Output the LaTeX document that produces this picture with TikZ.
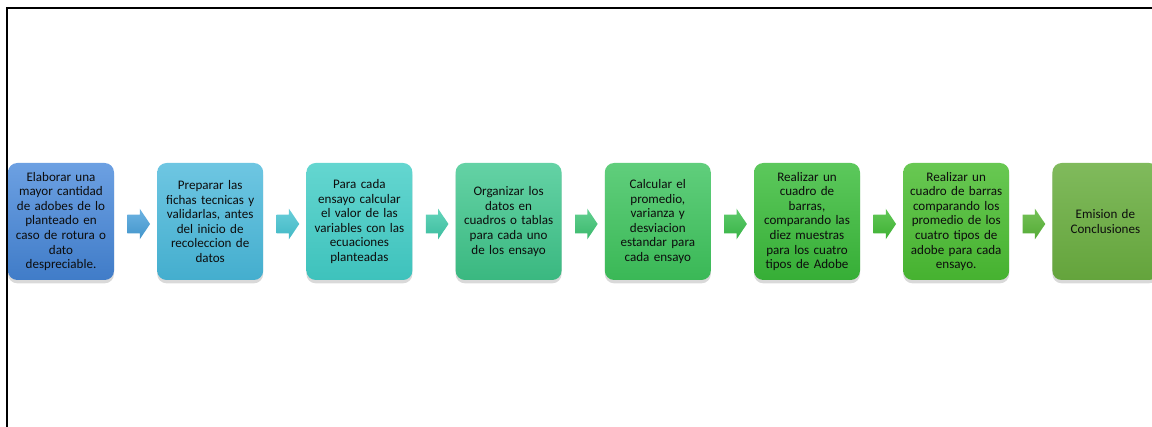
\documentclass[tikz,border=0pt]{standalone}
\usepackage{fontspec}
\setmainfont{Carlito}
\usetikzlibrary{shapes.arrows,shadows,positioning,calc}

\definecolor{t1}{RGB}{108,160,226} \definecolor{u1}{RGB}{64,124,200}
\definecolor{t2}{RGB}{110,198,226} \definecolor{u2}{RGB}{68,174,206}
\definecolor{t3}{RGB}{100,214,208} \definecolor{u3}{RGB}{62,194,188}
\definecolor{t4}{RGB}{100,210,165} \definecolor{u4}{RGB}{58,184,128}
\definecolor{t5}{RGB}{96,206,124} \definecolor{u5}{RGB}{58,184,86}
\definecolor{t6}{RGB}{92,200,92} \definecolor{u6}{RGB}{54,174,54}
\definecolor{t7}{RGB}{104,200,82} \definecolor{u7}{RGB}{70,178,48}
\definecolor{t8}{RGB}{128,186,92} \definecolor{u8}{RGB}{100,164,60}

\begin{document}
\begin{tikzpicture}[x=0.75pt,y=-0.75pt,
  etapa/.style={rounded corners=7pt,minimum width=79.5pt,minimum height=87.75pt,
    text width=78pt,align=center,inner sep=0pt,text=black!95,
    font=\fontsize{9.8}{10.9}\selectfont,
    drop shadow={shadow xshift=0pt,shadow yshift=-2.5pt,opacity=0.3}},
  flecha/.style={single arrow,single arrow tip angle=112,single arrow head extend=4.5pt,
    minimum height=17pt,inner xsep=0pt,inner ysep=6.75pt}]
\useasboundingbox (0,0) rectangle (1152,427);

\node[etapa,top color=t1,bottom color=u1] (b1) at (61,221.5)
  {Elaborar una\\ mayor cantidad\\ de adobes de lo\\ planteado en\\ caso de rotura o\\ dato\\ despreciable.};
\node[etapa,top color=t2,bottom color=u2,right=32pt of b1] (b2)
  {Preparar las\\ fichas tecnicas y\\ validarlas, antes\\ del inicio de\\ recoleccion de\\ datos};
\node[etapa,top color=t3,bottom color=u3,right=32pt of b2] (b3)
  {Para cada\\ ensayo calcular\\ el valor de las\\ variables con las\\ ecuaciones\\ planteadas};
\node[etapa,top color=t4,bottom color=u4,right=32pt of b3] (b4)
  {Organizar los\\ datos en\\ cuadros o tablas\\ para cada uno\\ de los ensayo};
\node[etapa,top color=t5,bottom color=u5,right=32pt of b4] (b5)
  {Calcular el\\ promedio,\\ varianza y\\ desviacion\\ estandar para\\ cada ensayo};
\node[etapa,top color=t6,bottom color=u6,right=32pt of b5] (b6)
  {Realizar un\\ cuadro de\\ barras,\\ comparando las\\ diez muestras\\ para los cuatro\\ tipos de Adobe};
\node[etapa,top color=t7,bottom color=u7,right=32pt of b6] (b7)
  {Realizar un\\ cuadro de barras\\ comparando los\\ promedio de los\\ cuatro tipos de\\ adobe para cada\\ ensayo.};
\node[etapa,top color=t8,bottom color=u8,right=32pt of b7] (b8)
  {Emision de\\ Conclusiones};

\foreach \a/\b in {1/2,2/3,3/4,4/5,5/6,6/7,7/8}
  \node[flecha,top color=t\a!50!t\b,bottom color=u\a!50!u\b] (f\a) at ($(b\a.east)!0.5!(b\b.west)+(0,2.5)$) {};

\draw[line width=1.2pt] (7,427) -- (7,8) -- (1152,8);
\end{tikzpicture}
\end{document}
